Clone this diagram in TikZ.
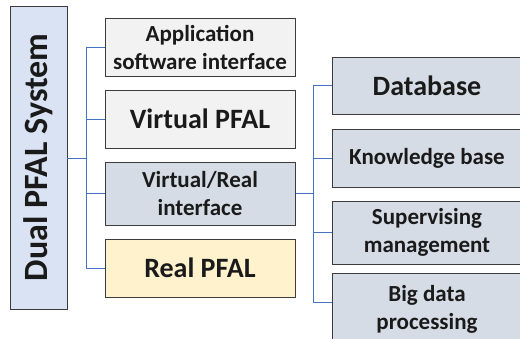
\documentclass[tikz,border=0pt]{standalone}
\usepackage{fontspec}
\setmainfont{Carlito}
\definecolor{edge}{HTML}{3C3C3C}
\definecolor{wire}{HTML}{4472C4}
\definecolor{sysfill}{HTML}{DAE3F3}
\definecolor{lightfill}{HTML}{F2F2F2}
\definecolor{greyblue}{HTML}{D6DCE5}
\definecolor{realfill}{HTML}{FFF2CC}
\definecolor{ink}{HTML}{1A1A1A}
\tikzset{
  box/.style={draw=edge, line width=1pt, inner sep=0pt, align=center,
    text=ink, anchor=center},
  bigtext/.style={font=\bfseries\fontsize{28}{30}\selectfont},
  smalltext/.style={font=\bfseries\fontsize{23}{28}\selectfont},
  wirestyle/.style={draw=wire, line width=0.8pt},
}
\begin{document}
\begin{tikzpicture}[x=1pt, y=-1pt]
  \clip (0,0) rectangle (520,338);
  \useasboundingbox (0,0) rectangle (520,338);
  \fill[white] (0,0) rectangle (520,338);

  % system box
  \node[box, fill=sysfill, minimum width=303pt, minimum height=57pt,
        rotate=90, font=\bfseries\fontsize{34}{36}\selectfont]
        (sys) at (38.5,157.5) {Dual PFAL System};
  \coordinate (sysE) at (67,158);

  % second column
  \node[box, smalltext, fill=lightfill, minimum width=190pt, minimum height=58pt]
        (app) at (200,47) {Application\\software interface};
  \node[box, bigtext, fill=lightfill, minimum width=190pt, minimum height=58pt]
        (vp) at (200,119) {Virtual PFAL};
  \node[box, smalltext, fill=greyblue, minimum width=190pt, minimum height=63pt]
        (vr) at (200,193.5) {Virtual/Real\\interface};
  \node[box, bigtext, fill=realfill, minimum width=190pt, minimum height=58pt]
        (rp) at (200,268) {Real PFAL};

  % third column
  \node[box, bigtext, fill=greyblue, minimum width=190pt, minimum height=57pt]
        (db) at (427,85.5) {Database};
  \node[box, smalltext, fill=greyblue, minimum width=190pt, minimum height=58pt]
        (kb) at (427,158) {Knowledge base};
  \node[box, smalltext, fill=greyblue, minimum width=190pt, minimum height=63pt]
        (sm) at (427,232.5) {Supervising\\management};
  \node[box, smalltext, fill=greyblue, minimum width=190pt, minimum height=72pt]
        (bd) at (427,309) {Big data\\processing};

  % connectors
  \coordinate (j1) at (86,0);
  \coordinate (j2) at (313,0);
  \foreach \t in {app,vp,vr,rp}
    \draw[wirestyle] (sysE) -- (sysE -| j1) |- (\t.west);
  \foreach \t in {db,kb,sm}
    \draw[wirestyle] (vr.east) -- (vr.east -| j2) |- (\t.west);
  \draw[wirestyle] (vr.east) -- (vr.east -| j2) |- (bd.west |- 0,302);
\end{tikzpicture}
\end{document}
